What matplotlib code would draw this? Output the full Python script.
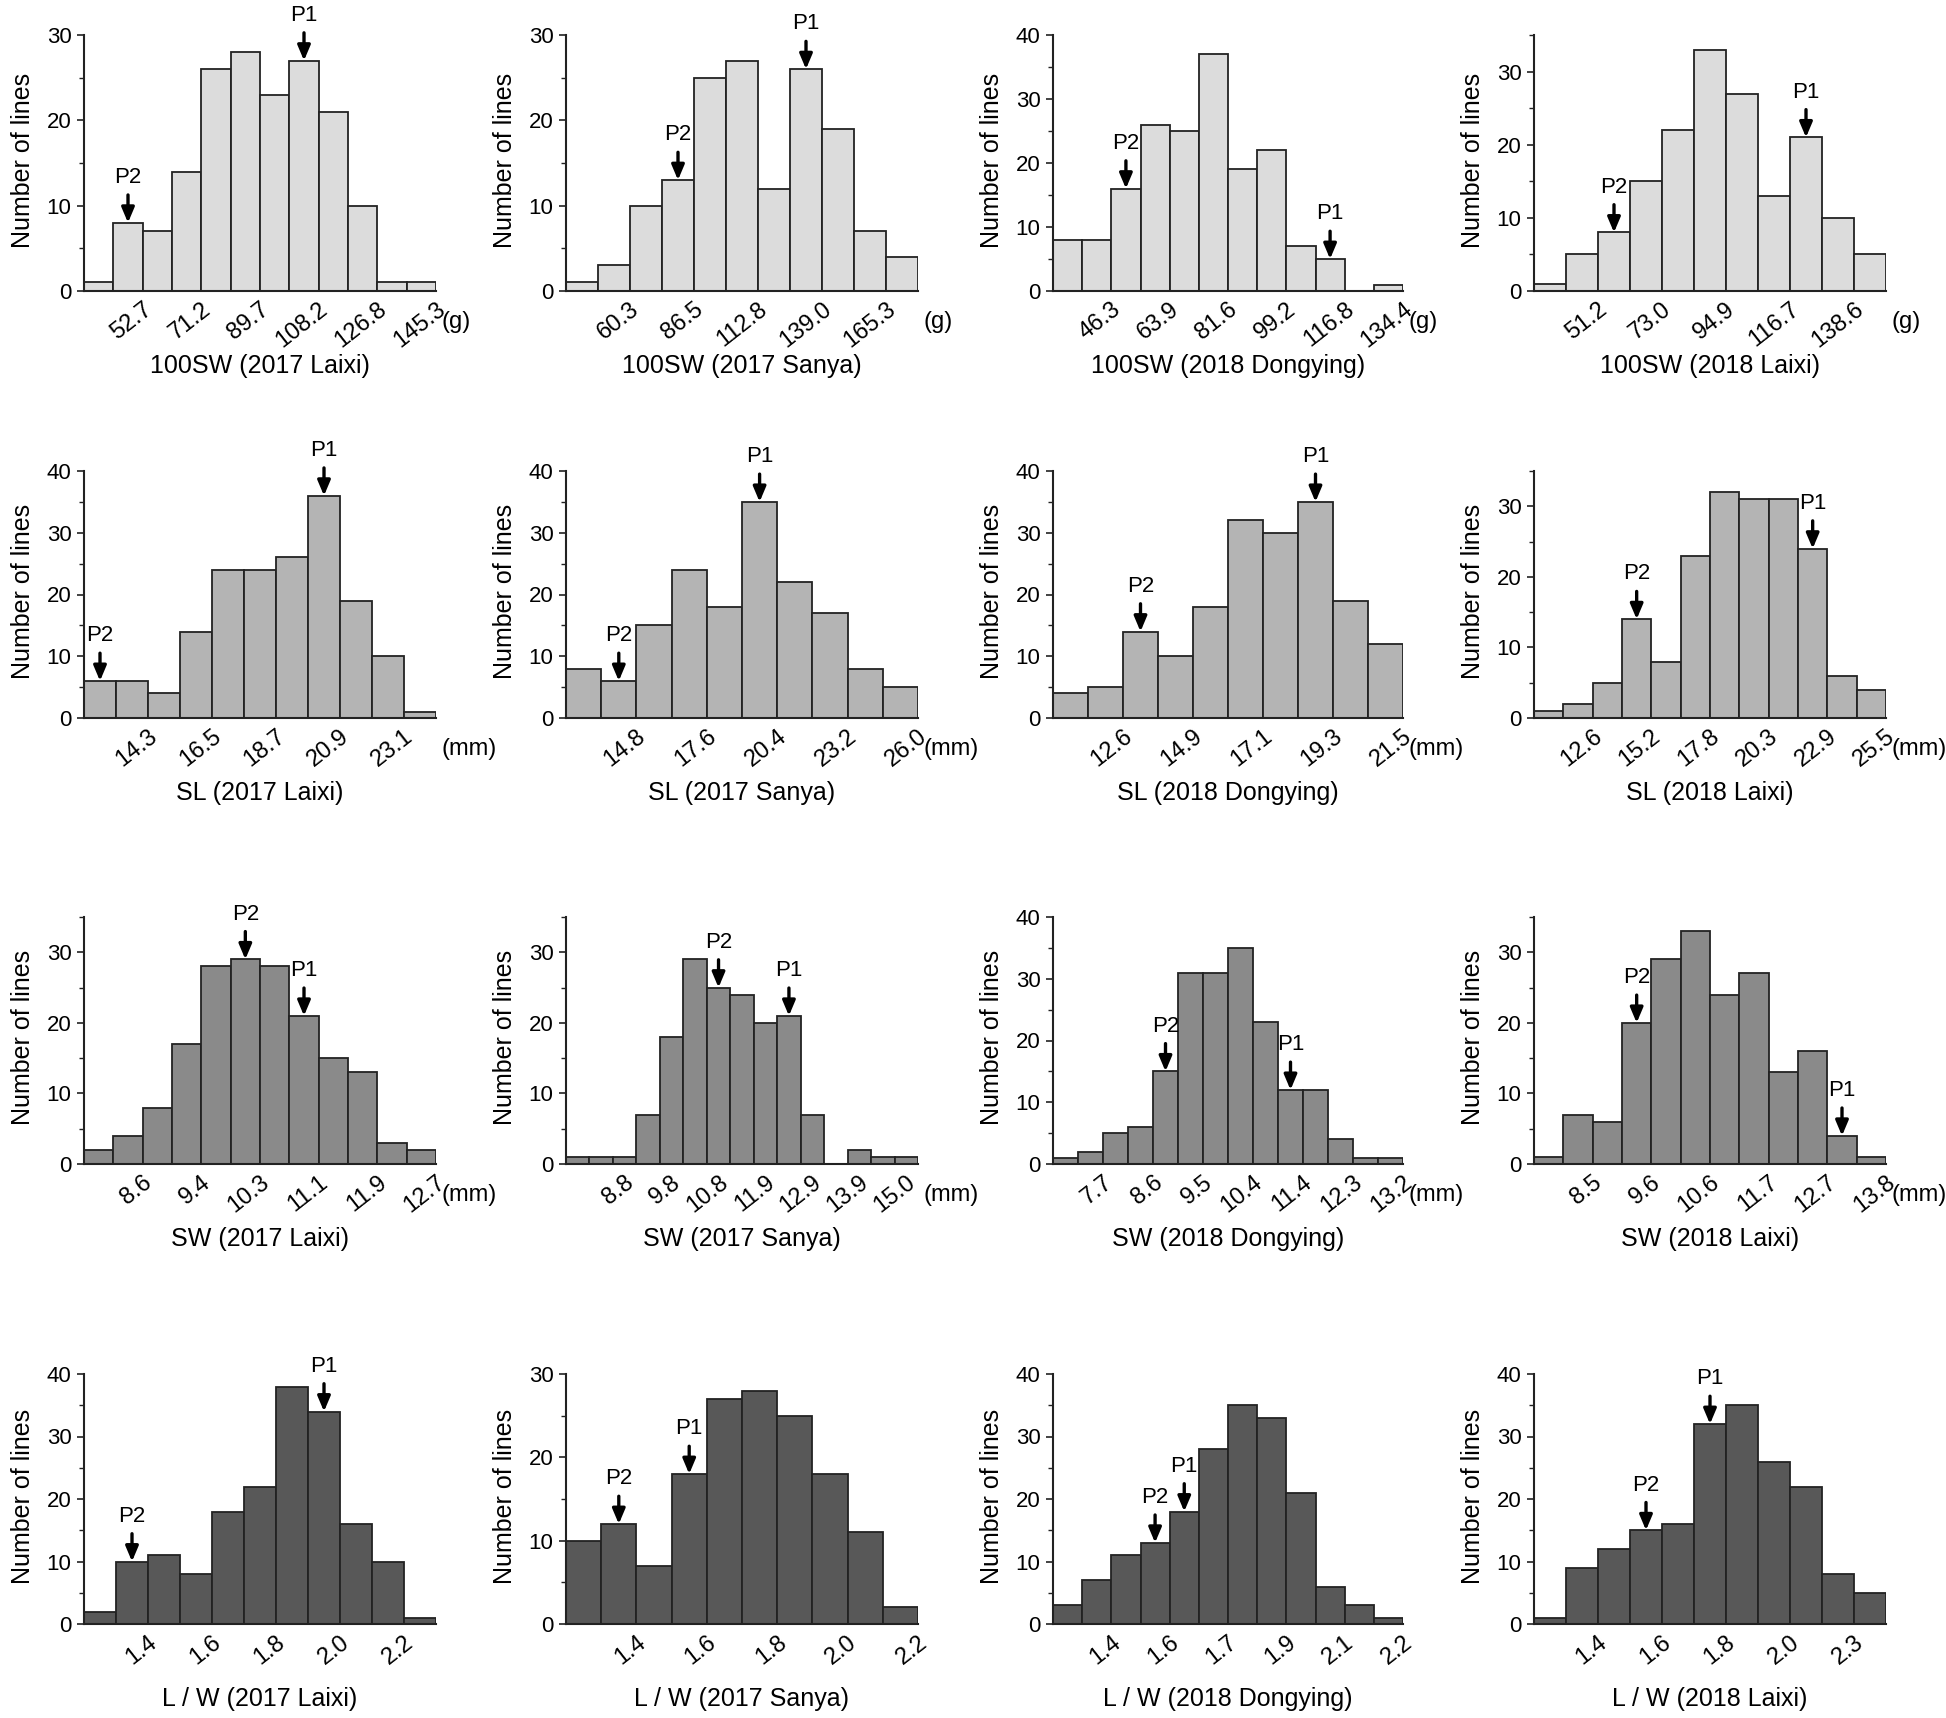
import matplotlib
matplotlib.use('Agg')
import matplotlib.pyplot as plt
from matplotlib.ticker import MultipleLocator

plt.rcParams['font.family'] = ['Liberation Sans', 'DejaVu Sans']

envs = ['2017 Laixi', '2017 Sanya', '2018 Dongying', '2018 Laixi']
traits = ['100SW', 'SL', 'SW', 'L / W']
units = ['(g)', '(mm)', '(mm)', '']

# counts per bin for each environment
sw100_counts = [
    [1, 8, 7, 14, 26, 28, 23, 27, 21, 10, 1, 1],
    [1, 3, 10, 13, 25, 27, 12, 26, 19, 7, 4],
    [8, 8, 16, 26, 25, 37, 19, 22, 7, 5, 0, 1],
    [1, 5, 8, 15, 22, 33, 27, 13, 21, 10, 5],
]
sl_counts = [
    [6, 6, 4, 14, 24, 24, 26, 36, 19, 10, 1],
    [8, 6, 15, 24, 18, 35, 22, 17, 8, 5],
    [4, 5, 14, 10, 18, 32, 30, 35, 19, 12],
    [1, 2, 5, 14, 8, 23, 32, 31, 31, 24, 6, 4],
]
sw_counts = [
    [2, 4, 8, 17, 28, 29, 28, 21, 15, 13, 3, 2],
    [1, 1, 1, 7, 18, 29, 25, 24, 20, 21, 7, 0, 2, 1, 1],
    [1, 2, 5, 6, 15, 31, 31, 35, 23, 12, 12, 4, 1, 1],
    [1, 7, 6, 20, 29, 33, 24, 27, 13, 16, 4, 1],
]
lw_counts = [
    [2, 10, 11, 8, 18, 22, 38, 34, 16, 10, 1],
    [10, 12, 7, 18, 27, 28, 25, 18, 11, 2],
    [3, 7, 11, 13, 18, 28, 35, 33, 21, 6, 3, 1],
    [1, 9, 12, 15, 16, 32, 35, 26, 22, 8, 5],
]

# tick labels (every second bin)
sw100_ticks = [
    ['52.7', '71.2', '89.7', '108.2', '126.8', '145.3'],
    ['60.3', '86.5', '112.8', '139.0', '165.3'],
    ['46.3', '63.9', '81.6', '99.2', '116.8', '134.4'],
    ['51.2', '73.0', '94.9', '116.7', '138.6'],
]
sl_ticks = [
    ['14.3', '16.5', '18.7', '20.9', '23.1'],
    ['14.8', '17.6', '20.4', '23.2', '26.0'],
    ['12.6', '14.9', '17.1', '19.3', '21.5'],
    ['12.6', '15.2', '17.8', '20.3', '22.9', '25.5'],
]
sw_ticks = [
    ['8.6', '9.4', '10.3', '11.1', '11.9', '12.7'],
    ['8.8', '9.8', '10.8', '11.9', '12.9', '13.9', '15.0'],
    ['7.7', '8.6', '9.5', '10.4', '11.4', '12.3', '13.2'],
    ['8.5', '9.6', '10.6', '11.7', '12.7', '13.8'],
]
lw_ticks = [
    ['1.4', '1.6', '1.8', '2.0', '2.2'],
    ['1.4', '1.6', '1.8', '2.0', '2.2'],
    ['1.4', '1.6', '1.7', '1.9', '2.1', '2.2'],
    ['1.4', '1.6', '1.8', '2.0', '2.3'],
]

# bin holding each parent (0-based)
sw100_p1 = [7, 7, 9, 8]
sw100_p2 = [1, 3, 2, 2]
sl_p1 = [7, 5, 7, 9]
sl_p2 = [0, 1, 2, 3]
sw_p1 = [7, 9, 9, 10]
sw_p2 = [5, 6, 4, 3]
lw_p1 = [7, 3, 4, 5]
lw_p2 = [1, 1, 3, 3]

all_counts = [sw100_counts, sl_counts, sw_counts, lw_counts]
all_ticks = [sw100_ticks, sl_ticks, sw_ticks, lw_ticks]
all_p1 = [sw100_p1, sl_p1, sw_p1, lw_p1]
all_p2 = [sw100_p2, sl_p2, sw_p2, lw_p2]

ytops = [[30, 30, 40, 35], [40, 40, 40, 35], [35, 35, 40, 35], [40, 30, 40, 40]]
first_tick = [[2, 2, 2, 2], [2, 2, 2, 2], [2, 2.5, 2, 2], [2, 2, 2, 2]]
fills = ['#dcdcdc', '#b4b4b4', '#8a8a8a', '#585858']

W, H = 1946, 1718
fig = plt.figure(figsize=(W / 100, H / 100), dpi=100)

col_left = [84, 566, 1053, 1534]
col_width = [352, 352, 350, 352]
row_span = [(35, 291), (471, 718), (917, 1164), (1374, 1624)]

edge = '#222222'

for r in range(4):
    top, bot = row_span[r]
    for c in range(4):
        ax = fig.add_axes([col_left[c] / W, 1 - bot / H,
                           col_width[c] / W, (bot - top) / H])
        counts = all_counts[r][c]
        n = len(counts)
        ax.bar(range(n), counts, width=1, align='edge', color=fills[r],
               edgecolor=edge, linewidth=1.3)
        ax.set_xlim(0, n)
        ax.set_ylim(0, ytops[r][c])

        for s in ['top', 'right']:
            ax.spines[s].set_visible(False)
        for s in ['left', 'bottom']:
            ax.spines[s].set_linewidth(1.5)
            ax.spines[s].set_color(edge)

        ax.yaxis.set_major_locator(MultipleLocator(10))
        ax.yaxis.set_minor_locator(MultipleLocator(5))
        ax.tick_params(axis='y', which='major', labelsize=16, length=5,
                       width=1.2, direction='out', pad=4, color=edge)
        ax.tick_params(axis='y', which='minor', length=3.5, width=1.0,
                       direction='out', color=edge)

        labels = all_ticks[r][c]
        pos = [first_tick[r][c] + 2 * k for k in range(len(labels))]
        ax.set_xticks(pos)
        ax.set_xticklabels(labels, rotation=38, ha='right', va='top',
                           rotation_mode='anchor', fontsize=17)
        ax.tick_params(axis='x', length=0, pad=5)

        ax.annotate('Number of lines', xy=(0, 0.5), xycoords='axes fraction',
                    xytext=(-44, 2), textcoords='offset points',
                    rotation=90, ha='center', va='center', fontsize=18)
        ax.annotate(f'{traits[r]} ({envs[c]})', xy=(0.5, 0),
                    xycoords='axes fraction', xytext=(0, -54),
                    textcoords='offset points', ha='center', va='center',
                    fontsize=18)
        if units[r]:
            ax.annotate(units[r], xy=(1, 0), xycoords='axes fraction',
                        xytext=(4, -22), textcoords='offset points',
                        ha='left', va='center', fontsize=17)

        for name, idx in [('P1', all_p1[r][c]), ('P2', all_p2[r][c])]:
            ax.annotate(name, xy=(idx + 0.5, counts[idx]),
                        xytext=(0, 25), textcoords='offset points',
                        ha='center', va='bottom', fontsize=16,
                        annotation_clip=False,
                        arrowprops=dict(arrowstyle='-|>,head_length=0.9,head_width=0.38',
                                        mutation_scale=10, lw=2.4,
                                        color='black', shrinkA=3, shrinkB=0))

fig.savefig('out.png', dpi=100)
